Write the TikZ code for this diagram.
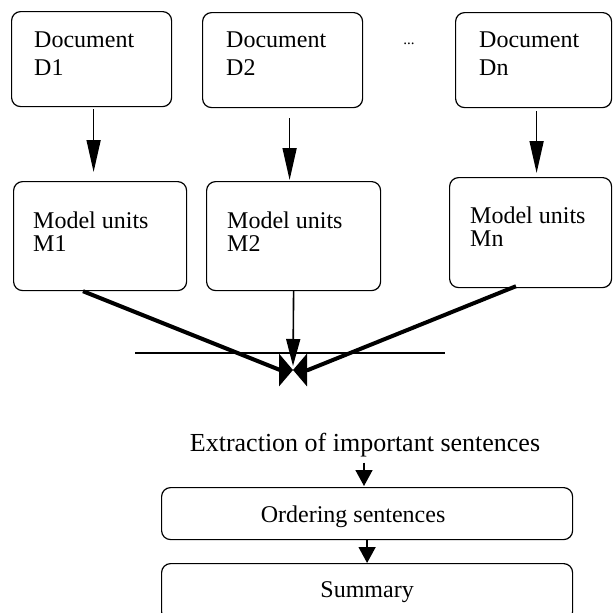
\documentclass[tikz,border=0pt]{standalone}
\usepackage{fontspec}
\setmainfont{Liberation Serif}
\usetikzlibrary{arrows.meta,calc}
\begin{document}
\begin{tikzpicture}[x=1pt,y=-1pt,
  box/.style={draw, line width=1.2pt, rounded corners=9pt, anchor=north west, inner sep=0pt},
  lbl/.style={anchor=north west, inner sep=0pt, align=left},
  bigfont/.style={font=\fontsize{24}{28.5}\selectfont},
  midfont/.style={font=\fontsize{24}{23.5}\selectfont},
  longarr/.style={line width=1.6pt, -{Triangle[length=32pt,width=14pt]}},
  midarr/.style={line width=1.6pt, -{Triangle[length=27pt,width=14pt]}},
  shortarr/.style={line width=1.6pt, -{Triangle[length=16pt,width=17pt]}},
  heavy/.style={line width=4pt, line join=round, -{Triangle[length=14pt,width=32pt]}}
]
\useasboundingbox (0,0) rectangle (613,613);
\clip (0,0) rectangle (613,613);

% document boxes
\node[box, minimum width=160pt, minimum height=95pt] (d1) at (11,11) {};
\node[box, minimum width=160pt, minimum height=95pt] (d2) at (202,12) {};
\node[box, minimum width=156pt, minimum height=95pt] (dn) at (455,12) {};
\node[lbl, bigfont] (td1) at (34,31.3) {Document\\D1};
\node[lbl, bigfont] (td2) at (226,31.3) {Document\\D2};
\node[lbl, bigfont] (tdn) at (479,31.3) {Document\\Dn};
\node[anchor=base, inner sep=0pt, font=\fontsize{15}{18}\selectfont] (dots) at (409,44) {...};

% model boxes
\node[box, minimum width=173pt, minimum height=109pt] (m1) at (13,181) {};
\node[box, minimum width=174pt, minimum height=109pt] (m2) at (206,181) {};
\node[box, minimum width=162pt, minimum height=110pt] (mn) at (449,177) {};
\node[lbl, midfont] (tm1) at (33,211.6) {Model units\\M1};
\node[lbl, midfont] (tm2) at (227,211.6) {Model units\\M2};
\node[lbl, midfont] (tmn) at (470,206.6) {Model units\\Mn};

% arrows documents -> models
\draw[longarr] ($(d1.south)+(2,2)$) -- ($(d1.south |- m1.north)+(2,-9)$);
\draw[longarr] ($(d2.south)+(7,10)$) -- ($(d2.south |- m2.north)+(7,-1)$);
\draw[longarr] ($(dn.south)+(3,3)$) -- ($(dn.south |- mn.north)+(3,-4)$);

% merge
\coordinate (c) at (293,370);
\coordinate (ct) at (293,366);
\coordinate (hl) at (135,353);
\coordinate (hr) at (445,353);
\draw[line width=1.8pt] (hl) -- (hr);
\draw[midarr] (m2.south) -- (ct);
\draw[heavy] ($(m1.south west)+(70,0)$) -- ($(c)+(-13,0)$) -- (c);
\draw[heavy] ($(mn.south west)+(67,-2)$) -- ($(c)+(15,0)$) -- (c);

% bottom part
\node[anchor=base, inner sep=0pt, font=\fontsize{26}{30}\selectfont] (ex) at (365,451) {Extraction of important sentences};
\node[box, minimum width=411pt, minimum height=52pt, text height=22.6pt, text depth=5.2pt, font=\fontsize{24}{28}\selectfont] (ord) at (161,487) {\hspace*{-28pt}Ordering sentences};
\node[box, minimum width=411pt, minimum height=57pt, font=\fontsize{24}{28}\selectfont] (sum) at (161,563) {Summary};
\draw[shortarr] ($(ex.south)+(-1,6)$) -- ($(ex.south |- ord.north)+(-1,-1)$);
\draw[shortarr] (ord.south) -- (sum.north);
\end{tikzpicture}
\end{document}
